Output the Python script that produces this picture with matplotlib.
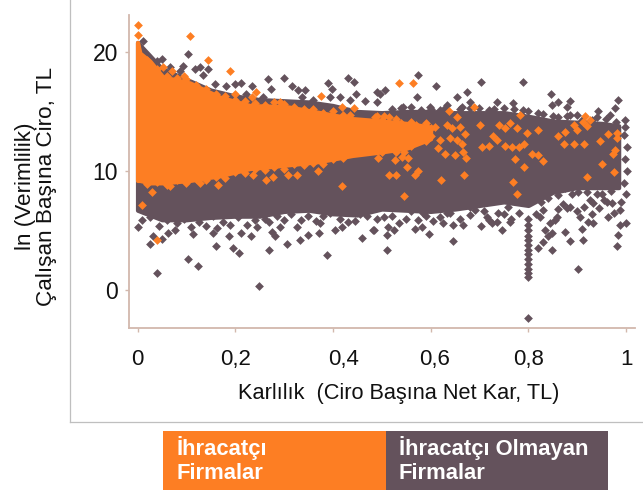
"""Productivity vs profitability scatter for exporter and non-exporter firms."""

import matplotlib
matplotlib.use("Agg")
import matplotlib.pyplot as plt
from matplotlib.patches import Rectangle
from matplotlib.transforms import ScaledTranslation

ORANGE = "#FD7E23"
DARK = "#64525C"
AXIS = "#D2B8AD"

plt.rcParams["font.family"] = ["Liberation Sans", "DejaVu Sans"]

x_ticks = [0, 0.2, 0.4, 0.6, 0.8, 1.0]
x_tick_labels = ["0", "0,2", "0,4", "0,6", "0,8", "1"]
y_ticks = [0, 10, 20]

# the clouds are too dense to read point by point, so their solid parts are outlines
dark_band_x = [0, .05, .1, .15, .2, .25, .3, .35, .4, .45, .5, .55, .6, .65, .7, .75, .8, .85, .9, .95, .985]
dark_band_top = [20.8, 18.6, 17.7, 16.8, 16.3, 16, 15.9, 15.8, 15.5, 15, 14.9, 15, 15, 14.9, 14.9, 14.9, 14.6, 14.2, 14.1, 14, 13.8]
dark_band_low = [6.7, 5.9, 5.9, 6.1, 6.2, 6.2, 6.6, 6.7, 6.4, 6.3, 6.8, 6.7, 6.6, 6.8, 7.1, 7.4, 7.1, 8.2, 8.6, 8.6, 8.6]

orange_band_x = [0, .005, .026, .052, .107, .169, .23, .306, .374, .44, .5, .55, .6]
orange_band_top = [20.8, 19.9, 19.2, 17.9, 17.4, 16.2, 15.5, 15.4, 14.9, 14.4, 14.2, 14, 13.7]
orange_band_low = [9.2, 9.2, 9, 9, 9.2, 9.6, 10.2, 10.5, 10.8, 11.3, 11.6, 11.9, 12.7]

dark_x = [
    .001, .032, .026, .05, .04, .062, .077, .103, .124, .114, .161, .155, .163, .187, .196, .208, .212, .232,
    .245, .249, .269, .275, .281, .292, .306, .333, .349, .372, .388, .404, .419, .46, .482, .374, .326,
    .484, .511, .525, .511, .513, .568, .582, .597, .625, .646, .646, .666, .703, .726, .746, .762,
    .8, .8, .8, .8, .8, .8, .8, .8, .8, .8, .8, .8, .8, .8,
    .82, .834, .848, .83, .848, .84, .855, .875, .885, .902, .912, .91, .922, .932, .879, .902, .885, .875,
    .906, .932, .926, .941, .963, .982, .984, .988, 1.0, .971, .988, .961, .859, .824, .758, .738, .715, .68,
    .633, .584,
    .011, .019, .013, .05, .04, .067, .103, .093, .087, .118, .128, .144, .134, .159, .181, .2, .212, .234,
    .267, .3, .273, .257, .316, .329, .343, .337, .359, .39, .398, .431, .443, .447, .466, .49, .415, .394,
    .435, .222, .236,
    .574, .611, .572, .703, .789, .674, .654, .681, .736, .846, .848, .861, .885, .879, .885, .943, .984, .977,
    .967, .998, .998, .496, .507, .49, .544, .599, .633, .664, .769,
]
dark_y = [
    5.3, 4.5, 3.9, 4.3, 1.4, 4.8, 5.0, 2.6, 2.0, 4.7, 3.7, 4.8, 5.2, 4.5, 3.5, 3.1, 4.8, 4.5,
    5.3, .34, 3.4, 4.9, 4.5, 5.3, 3.9, 4.2, 4.6, 4.8, 2.9, 5.0, 5.3, 4.4, 5.0, 5.6, 5.3,
    5, 4.6, 5, 3.4, 5.3, 5.1, 5.3, 4.7, 5.6, 4.1, 5.5, 5.5, 5.4, 5.6, 5, 5.7,
    6, 5.5, 5, 4.5, 4.2, 3.8, 3.4, 3, 2.6, 2.2, 1.8, 1.4, 1.1, -2.35,
    3.5, 5, 4.8, 4, 3.4, 4.5, 5.9, 4.9, 4.1, 1.8, 4.2, 5.1, 5.7, 5.6, 6.9, 8.2, 9.1, 8.6,
    6.1, 7.3, 7.6, 8.1, 6.1, 3.7, 4.6, 5.5, 5.6, 7.3, 6.7, 7.4, 6.1, 6.1, 7, 6.5, 6.1, 7,
    6.5, 6.5,
    20.9, 19.7, 19.2, 19.4, 19.2, 18.7, 19.8, 18.8, 18.4, 18.6, 18.7, 18.6, 18.1, 17.3, 17.1, 17.3, 17.4, 17.1,
    17.7, 17.8, 16.9, 16.2, 17.1, 16.8, 16.8, 16.2, 16, 17.4, 16.9, 17.8, 17.5, 16.5, 15.9, 16.6, 16.2, 16.2,
    16, 16.5, 15.3,
    18.1, 17.1, 16.2, 17.5, 17.5, 16.6, 16.2, 15.8, 15.8, 16.5, 15.5, 15.8, 15.9, 15.4, 14.7, 15, 16, 15.3,
    14.7, 14.3, 13.7, 16.5, 16.8, 15.8, 15.4, 15.4, 15.5, 15.4, 15.7,
]

# bumps along the edges of the dark cloud
dark_edge_x = [
    .01, .025, .045, .06, .08, .095, .11, .125, .14, .155, .175, .19, .205, .225, .24, .26, .27, .285, .3, .315,
    .335, .35, .365, .38, .395, .415, .43, .445, .455, .47, .49, .505, .52, .535, .55, .56, .575, .59, .605, .62,
    .64, .66, .68, .69, .71, .72, .735, .75, .765, .78, .815, .83, .845, .86, .87, .885, .9, .915, .93, .945,
    .955, .975, .99, 1.0, .995, 1.002, .998, 1.003, .995,
    .52, .56, .6, .63, .66, .7, .73, .77, .8, .83, .86, .9, .93, .96,
    .825, .84, .86, .89, .92, .95, .97,
    .54, .58, .62, .68, .72, .75, .79, .82, .85, .88, .91, .94, .98,
]
dark_edge_y = [
    5.9, 6.1, 5.4, 5.9, 5.6, 6, 5.3, 5.7, 5.4, 6.2, 5.7, 5.5, 6.1, 5.5, 5.9, 6, 5.7, 6.2, 5.9, 6.4,
    5.9, 6.2, 5.8, 6.2, 6.5, 6, 5.7, 5.8, 6.4, 6.2, 6, 6.1, 6.2, 5.6, 6, 6.6, 5.9, 6.2, 5.8, 6.1,
    6.5, 6, 6.3, 6.7, 6.6, 5.9, 5.7, 6.4, 6, 6.5, 6.4, 6.7, 5.6, 6.8, 7.2, 7, 6.6, 7, 6.4, 6.9,
    7.6, 6.5, 7.4, 8.1, 9, 10, 11, 12, 13,
    15.2, 15.4, 15.2, 15.3, 15.2, 15.3, 15.2, 15.2, 15, 14.8, 14.5, 14.7, 14.3, 14.4,
    7.4, 7.7, 8, 8.1, 8.2, 8.1, 8.3,
    15.3, 15.1, 15.1, 15.3, 15.1, 15.3, 15.1, 14.9, 14.6, 14.6, 14.3, 14.5, 14.1,
]

orange_x = [
    0, 0, .107, .144, .189, .052, .071, .095, .243, .2, .234, .292, .376, .419, .443, .435, .421, .486,
    .009, .03, .04, .067, .128, .165, .236, .263, .277, .308, .326, .37, .419, .019,
    .535, .564, .638, .689, .783, .916, .926, .912, .92, .893, .9, .875, .861, .873, .893, .914, .947, .963,
    .982, .982, .977, .973, .951, .975, .92, .82, .797, .777, .762, .752, .74, .791, .781, .767, .752, .736,
    .728, .72, .705, .701, .67, .654, .66, .644, .633, .64, .654, .664, .666, .672, .65, .63, .615, .619,
    .773, .807, .82, .83, .791, .769, .777, .668, .621, .546, .574, .568, .552, .529, .515, .492, .527, .541,
    .554,
]
orange_y = [
    22.3, 21.4, 21.3, 19.3, 18.4, 18.7, 18.4, 18, 16.6, 16.5, 16.2, 15.8, 16.3, 15.4, 15.3, 14.7, 14.3, 14.5,
    7.1, 8.2, 4.2, 8.7, 9, 8.8, 9.7, 9.2, 9.5, 9.7, 9.7, 10, 8.7, 9,
    17.4, 17.4, 15, 15.4, 14.7, 14.6, 14.3, 14.1, 13.8, 13.9, 13.4, 13.3, 12.9, 12.3, 12.3, 12.3, 12.5, 13.1,
    13.2, 12.8, 11.8, 11.4, 10.6, 9.9, 9.5, 13.4, 13.2, 13.6, 14, 13.6, 13.9, 12.3, 12, 12, 12.1, 12.6,
    12.9, 12.1, 12, 13.9, 13.1, 14.5, 13.7, 13.6, 13.9, 12.8, 12.6, 12.3, 11.6, 11.1, 11.3, 11.4, 11.9, 12.6,
    11, 11.4, 11.3, 10.8, 10.3, 9.1, 8.1, 9.7, 9.2, 7.9, 10, 9.7, 10.3, 9.7, 9.7, 11.1, 10.9, 11.2,
    11.1,
]

# bumps along the edges of the orange cloud, and its broken tip near 0,5-0,6
orange_edge_x = [
    .02, .04, .06, .08, .1, .12, .14, .16, .18, .2, .22, .24, .26, .28, .3, .32, .34, .36, .38, .4, .42,
    .02, .04, .06, .08, .1, .12, .14, .16, .18, .2, .22, .24, .26, .28, .3, .32, .34, .36, .38, .4, .42,
    .5, .51, .52, .53, .54, .55, .56, .57, .58, .59, .6, .6, .59, .575, .555, .545, .53, .51, .5, .56, .61,
    .53, .515, .505, .49,
]
orange_edge_y = [
    8.9, 9.1, 8.8, 9.2, 9, 9.3, 9.2, 9.5, 9.4, 9.9, 9.8, 10.2, 10.1, 10.3, 10.2, 10.6, 10.5, 10.7, 10.6, 11, 11.1,
    19.3, 18.6, 18, 17.8, 17.7, 17.2, 16.9, 16.5, 16.3, 16, 15.9, 15.7, 15.5, 15.8, 15.6, 15.4, 15.2, 15.2, 14.9, 15, 14.7,
    14.3, 13.2, 13.9, 12.6, 14, 13.1, 12.1, 13.9, 13.4, 14, 13.6, 12.9, 12.5, 12.5, 12.2, 11.6, 11.6, 11.9, 11.6, 14.1, 13.7,
    14.4, 14.5, 14.6, 14.6,
]

fig = plt.figure(figsize=(6.43, 4.9), dpi=100)
ax = fig.add_axes([129 / 643, 162 / 490, 506 / 643, 313 / 490])

ax.fill_between(dark_band_x, dark_band_low, dark_band_top, color=DARK, lw=3, zorder=2)
ax.scatter(dark_x + dark_edge_x, dark_y + dark_edge_y, marker="D", s=20, color=DARK, linewidths=0, zorder=3)
ax.fill_between(orange_band_x, orange_band_low, orange_band_top, color=ORANGE, lw=3, zorder=4)
ax.scatter(orange_x + orange_edge_x, orange_y + orange_edge_y, marker="D", s=20, color=ORANGE, linewidths=0, zorder=5)

ax.set_xlim(-0.0174, 1.0184)
ax.set_ylim(-3.19, 23.1)
ax.spines[["top", "right"]].set_visible(False)
ax.spines[["left", "bottom"]].set_color(AXIS)
ax.spines[["left", "bottom"]].set_linewidth(1.3)

ax.set_xticks(x_ticks, x_tick_labels)
ax.set_yticks(y_ticks)
ax.tick_params(axis="x", color=AXIS, length=3, width=1, pad=12, labelsize=16, labelcolor="#111111")
ax.tick_params(axis="y", color=AXIS, length=3, width=1, pad=5, labelsize=16.5, labelcolor="#111111")

# the 0,4 and 0,6 labels sit right of their ticks in the original
for lab, dx in zip(ax.get_xticklabels(), [0, 0, 11, 4, 0, 0]):
    lab.set_transform(lab.get_transform() + ScaledTranslation(dx / 100, 0, fig.dpi_scale_trans))

fig.text(399 / 643, 1 - 393 / 490, "Karlılık  (Ciro Başına Net Kar, TL)", ha="center", va="center", fontsize=15.7, color="#111111")
fig.text(36 / 643, 1 - 186 / 490, "ln (Verimlilik)\nÇalışan Başına Ciro, TL", ha="center", va="center",
         rotation=90, multialignment="center", fontsize=16.2, linespacing=1.05, color="#111111")

# outer frame lines of the pasted slide object
fig.add_artist(plt.Line2D([70 / 643, 70 / 643], [1, 1 - 422 / 490], color="#BFBFBF", lw=0.9))
fig.add_artist(plt.Line2D([70 / 643, 1], [1 - 422 / 490, 1 - 422 / 490], color="#BFBFBF", lw=0.9))

# legend boxes under the chart
fig.add_artist(Rectangle((162.5 / 643, 0), 223 / 643, 59 / 490, transform=fig.transFigure, color=ORANGE, lw=0))
fig.add_artist(Rectangle((385.5 / 643, 0), 222.5 / 643, 59 / 490, transform=fig.transFigure, color=DARK, lw=0))
fig.text(177 / 643, 1 - 460 / 490, "İhracatçı\nFirmalar", ha="left", va="center", color="white",
         fontsize=15.8, fontweight="bold", linespacing=1.2)
fig.text(399 / 643, 1 - 460 / 490, "İhracatçı Olmayan\nFirmalar", ha="left", va="center", color="white",
         fontsize=15.8, fontweight="bold", linespacing=1.2)

fig.savefig("out.png", dpi=100)
